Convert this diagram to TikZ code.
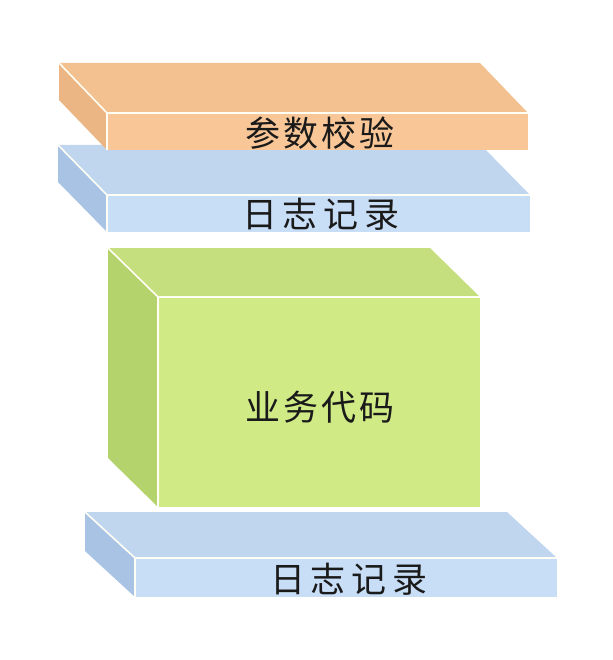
\documentclass[tikz,border=0pt]{standalone}
\usepackage{fontspec}
\newfontfamily\cjk{Noto Sans CJK SC}
\definecolor{orTop}{HTML}{F3C18F}
\definecolor{orSide}{HTML}{ECB684}
\definecolor{orFront}{HTML}{F9C797}
\definecolor{blTop}{HTML}{C0D6EF}
\definecolor{blSide}{HTML}{A9C3E5}
\definecolor{blFront}{HTML}{C8DDF6}
\definecolor{grTop}{HTML}{C6DF7E}
\definecolor{grSide}{HTML}{B4D36C}
\definecolor{grFront}{HTML}{D0EA86}
\definecolor{txt}{HTML}{1A1A1A}
\tikzset{
  edge/.style={draw=white!96!yellow, line width=1.6pt, line join=round},
  lbl/.style={font=\cjk\fontsize{35}{38}\selectfont, text=txt, inner sep=0pt},
}
% #1 fx, #2 fy(top, negative), #3 width, #4 height, #5 dx, #6 dy, #7 top, #8 side, #9 front
\newcommand{\myslab}[9]{%
  \fill[#7] (#1,#2) -- (#1+#3,#2) -- (#1+#3-#5,#2+#6) -- (#1-#5,#2+#6) -- cycle;
  \fill[#8] (#1,#2) -- (#1-#5,#2+#6) -- (#1-#5,#2+#6-#4) -- (#1,#2-#4) -- cycle;
  \fill[#9] (#1,#2) rectangle (#1+#3,#2-#4);
  \draw[edge] (#1-#5,#2+#6) -- (#1,#2) -- (#1+#3,#2);
  \draw[edge] (#1,#2) -- (#1,#2-#4);
}
\newcommand{\gp}[1]{\hspace{#1}}
\begin{document}
\begin{tikzpicture}[x=1pt,y=1pt]
\useasboundingbox[fill=white] (0,0) rectangle (612,-660);
% blue slab 1 (drawn under orange)
\myslab{107}{-195}{423}{37}{49}{50}{blTop}{blSide}{blFront}
% orange slab
\myslab{107}{-113}{421}{37}{48}{50}{orTop}{orSide}{orFront}
% green box
\myslab{158}{-297}{322}{210}{50}{49}{grTop}{grSide}{grFront}
% blue slab 2
\myslab{135}{-558}{422}{39}{50}{46}{blTop}{blSide}{blFront}
\node[lbl] (t1) at (320,-133) {参\gp{3pt}数\gp{3pt}校\gp{3pt}验};
\node[lbl] (t2) at (321,-214) {日\gp{6pt}志\gp{6pt}记\gp{6pt}录};
\node[lbl] (t3) at (320,-407) {业\gp{3pt}务\gp{3pt}代\gp{3pt}码};
\node[lbl] (t4) at (349,-579) {日\gp{6pt}志\gp{6pt}记\gp{6pt}录};
\end{tikzpicture}
\end{document}
